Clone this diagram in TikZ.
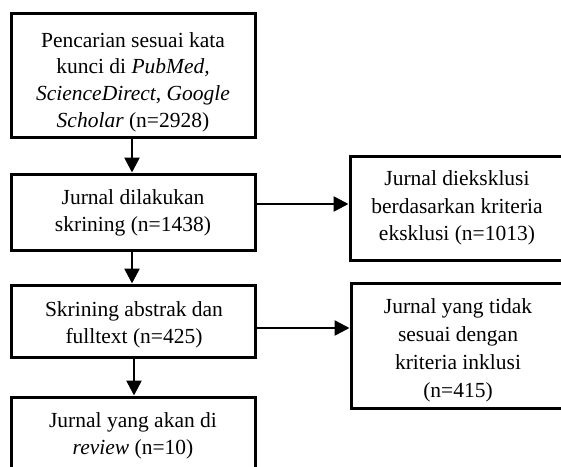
\documentclass[tikz,border=0pt]{standalone}
\usepackage{fontspec}
\setmainfont{Liberation Serif}
\usetikzlibrary{arrows.meta}
\tikzset{
  box/.style={draw, line width=3pt, inner sep=0pt},
  txt/.style={align=center, inner sep=0pt, font=\fontsize{21.5}{26.7}\selectfont},
  arr/.style={line width=2.6pt, -{Triangle[length=15pt,width=15pt]}}
}
\begin{document}
\begin{tikzpicture}[x=1pt,y=-1pt]
\useasboundingbox (0,0) rectangle (561,466);
\clip (0,0) rectangle (561,466);
% boxes
\node[box, minimum width=244pt, minimum height=124pt] (b1) at (133,75) {};
\node[box, minimum width=244pt, minimum height=76pt] (b2) at (133,212) {};
\node[box, minimum width=244pt, minimum height=72pt] (b3) at (133,321) {};
\node[box, minimum width=244pt, minimum height=86pt] (b4) at (133,440) {};
\node[box, minimum width=215pt, minimum height=104pt] (b5) at (457.5,208) {};
\node[box, minimum width=214pt, minimum height=125pt] (b6) at (458,345.5) {};
% texts
\node[txt] (t1) at (133,82) {Pencarian sesuai kata\\kunci di \textit{PubMed,}\\\textit{ScienceDirect}, \textit{Google}\\\textit{Scholar} (n=2928)};
\node[txt] (t2) at (133,213) {Jurnal dilakukan\\skrining (n=1438)};
\node[txt] (t3) at (134,325) {Skrining abstrak dan\\fulltext (n=425)};
\node[txt] (t4) at (133,436) {Jurnal yang akan di\\\textit{review} (n=10)};
\node[txt, font=\fontsize{21.5}{27.5}\selectfont] (t5) at (457,208) {Jurnal dieksklusi\\berdasarkan kriteria\\eksklusi (n=1013)};
\node[txt, font=\fontsize{21.5}{28}\selectfont] (t6) at (458,350) {Jurnal yang tidak\\sesuai dengan\\kriteria inklusi\\(n=415)};
% connectors
\draw[arr] ([xshift=-1pt]b1.south) -- ([xshift=-1pt]b2.north);
\draw[arr] ([xshift=-1pt]b2.south) -- ([xshift=-1pt]b3.north);
\draw[arr] ([xshift=1pt]b3.south) -- ([xshift=1pt]b4.north);
\draw[arr] ([yshift=8pt]b2.east) -- ([yshift=8pt]b2.east -| b5.west);
\draw[arr] ([yshift=-7pt]b3.east) -- ([yshift=-7pt]b3.east -| b6.west);
\end{tikzpicture}
\end{document}
